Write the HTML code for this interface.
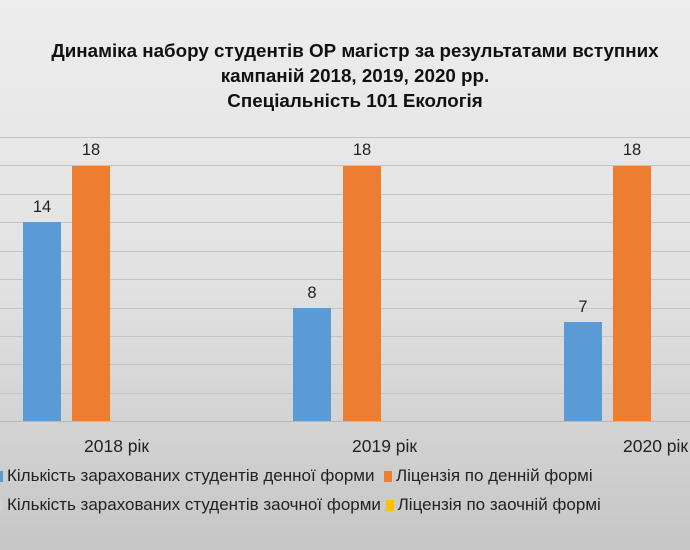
<!DOCTYPE html>
<html><head><meta charset="utf-8"><style>
body{margin:0;width:690px;height:550px;overflow:hidden;background:linear-gradient(#ededed,#e2e2e2 50%,#c6c6c6);font-family:"Liberation Sans",sans-serif;position:relative}
.t{position:absolute;left:0;width:710px;text-align:center;font-weight:bold;font-size:18.8px;color:#111;line-height:25px;top:38px}
.g{position:absolute;left:0;width:690px;height:1px;background:#c4c4c4}
.b{position:absolute;width:38px}
.bl{background:#5b9bd5}.or{background:#ed7d31}
.l{position:absolute;font-size:16.5px;color:#222;width:60px;text-align:center}
.x{position:absolute;font-size:17.5px;color:#222;top:436px}
.lg{position:absolute;font-size:17px;color:#222;white-space:nowrap}
.sq{display:inline-block;width:8px;height:11px;margin-right:4px;vertical-align:-1px}
</style></head><body>
<div class="t">Динаміка набору студентів ОР магістр за результатами вступних<br>кампаній 2018, 2019, 2020 рр.<br>Спеціальність 101 Екологія</div>
<div class="g" style="top:137px"></div><div class="g" style="top:165px"></div><div class="g" style="top:194px"></div><div class="g" style="top:222px"></div><div class="g" style="top:251px"></div><div class="g" style="top:279px"></div><div class="g" style="top:308px"></div><div class="g" style="top:336px"></div><div class="g" style="top:364px"></div><div class="g" style="top:393px"></div><div class="g" style="top:421px;background:#b8b8b8"></div>
<div class="b bl" style="left:23px;top:222px;height:199px"></div>
<div class="b or" style="left:72px;top:166px;height:255px"></div>
<div class="b bl" style="left:293px;top:308px;height:113px"></div>
<div class="b or" style="left:343px;top:166px;height:255px"></div>
<div class="b bl" style="left:564px;top:322px;height:99px"></div>
<div class="b or" style="left:613px;top:166px;height:255px"></div>
<div class="l" style="left:12px;top:198px">14</div>
<div class="l" style="left:61px;top:141px">18</div>
<div class="l" style="left:282px;top:284px">8</div>
<div class="l" style="left:332px;top:141px">18</div>
<div class="l" style="left:553px;top:298px">7</div>
<div class="l" style="left:602px;top:141px">18</div>
<div class="x" style="left:84px">2018 рік</div>
<div class="x" style="left:352px">2019 рік</div>
<div class="x" style="left:623px">2020 рік</div>
<div class="lg" style="left:-5px;top:466px"><span class="sq" style="background:#5b9bd5"></span>Кількість зарахованих студентів денної форми &nbsp;<span class="sq" style="background:#ed7d31"></span>Ліцензія по денній формі</div>
<div class="lg" style="left:-5px;top:495px"><span class="sq" style="background:#cfcfcf"></span>Кількість зарахованих студентів заочної форми <span class="sq" style="background:#ffc000"></span>Ліцензія по заочній формі</div>
</body></html>
